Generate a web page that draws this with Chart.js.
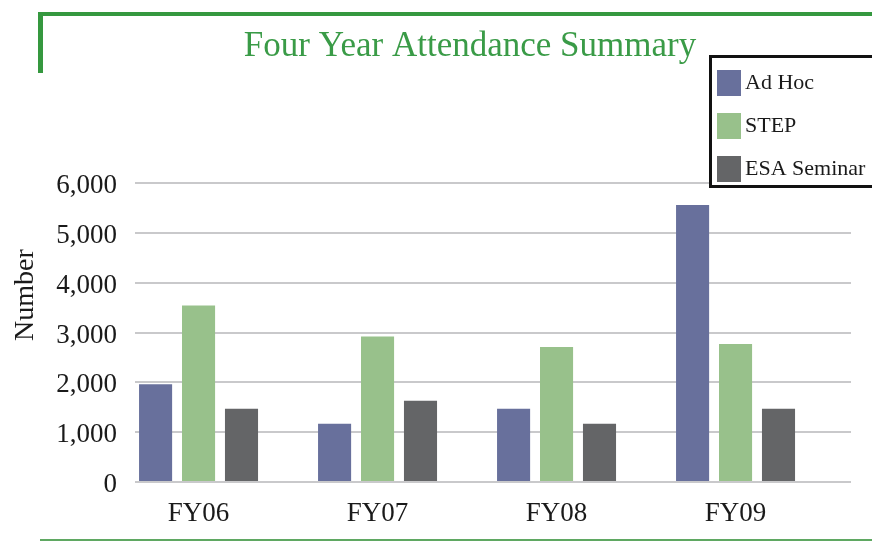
<!DOCTYPE html>
<html>
<head>
<meta charset="utf-8">
<script src="https://cdn.jsdelivr.net/npm/chart.js@4.4.1/dist/chart.umd.min.js"></script>
<style>
  html, body { margin: 0; padding: 0; background: #ffffff; }
  #wrap { width: 872px; height: 542px; position: relative; }
</style>
</head>
<body>
<div id="wrap"><canvas id="c" width="872" height="542"></canvas></div>
<script>
const chartTitle = 'Four Year Attendance Summary';
const categories = ['FY06', 'FY07', 'FY08', 'FY09'];
const seriesNames = ['Ad Hoc', 'STEP', 'ESA Seminar'];
const adHoc = [1960, 1170, 1470, 5560];
const step = [3540, 2920, 2710, 2770];
const esaSeminar = [1470, 1630, 1170, 1470];
const yTicks = [0, 1000, 2000, 3000, 4000, 5000, 6000];
const yAxisTitle = 'Number';

const colors = ['#68709c', '#98c18b', '#646567'];
const FONT = '"Liberation Serif", "Times New Roman", serif';
const X_MIN = -0.355, X_MAX = 3.645;

function toPoints(arr) { return arr.map((v, i) => ({ x: i, y: v })); }

const framePlugin = {
  id: 'frame',
  beforeDraw(chart) {
    const ctx = chart.ctx;
    ctx.save();
    ctx.fillStyle = '#ffffff';
    ctx.fillRect(0, 0, chart.width, chart.height);
    ctx.fillStyle = '#35983f';
    ctx.fillRect(38, 12, chart.width - 38, 4);
    ctx.fillRect(38, 12, 5, 61);
    ctx.fillStyle = '#5fa862';
    ctx.fillRect(40, 539, chart.width - 40, 2);
    ctx.fillStyle = '#3a9b47';
    ctx.font = '35px ' + FONT;
    ctx.textAlign = 'center';
    ctx.textBaseline = 'alphabetic';
    ctx.fillText(chartTitle, 470, 56);
    // y axis title
    ctx.fillStyle = '#1a1a1a';
    ctx.font = '28px ' + FONT;
    ctx.translate(33, 295);
    ctx.rotate(-Math.PI / 2);
    ctx.textAlign = 'center';
    ctx.fillText(yAxisTitle, 0, 0);
    ctx.restore();
  }
};

const legendPlugin = {
  id: 'boxLegend',
  afterDraw(chart) {
    const ctx = chart.ctx;
    ctx.save();
    ctx.fillStyle = '#ffffff';
    ctx.fillRect(710, 56, 200, 131);
    ctx.strokeStyle = '#111111';
    ctx.lineWidth = 3;
    ctx.strokeRect(710.5, 56.5, 200, 130);
    ctx.font = '22px ' + FONT;
    ctx.textBaseline = 'alphabetic';
    ctx.textAlign = 'left';
    chart.data.datasets.forEach((ds, i) => {
      const y = 70 + i * 43;
      ctx.fillStyle = ds.backgroundColor;
      ctx.fillRect(717, y, 24, 26);
      ctx.fillStyle = '#1a1a1a';
      ctx.fillText(ds.label, 745, y + 19);
    });
    ctx.restore();
  }
};

new Chart(document.getElementById('c'), {
  type: 'bar',
  data: {
    datasets: [
      { label: seriesNames[0], data: toPoints(adHoc), backgroundColor: colors[0] },
      { label: seriesNames[1], data: toPoints(step), backgroundColor: colors[1] },
      { label: seriesNames[2], data: toPoints(esaSeminar), backgroundColor: colors[2] }
    ]
  },
  options: {
    responsive: false,
    animation: false,
    devicePixelRatio: 1,
    categoryPercentage: 0.72,
    barPercentage: 0.77,
    layout: { padding: { top: 183, right: 21, left: 0, bottom: 0 } },
    plugins: {
      legend: { display: false },
      title: { display: false },
      tooltip: { enabled: false }
    },
    scales: {
      x: {
        type: 'linear',
        bounds: 'data',
        offset: false,
        min: X_MIN,
        max: X_MAX,
        grid: { display: false, drawTicks: false },
        border: { display: false },
        afterFit(s) { s.height = 60; },
        afterBuildTicks(s) {
          s.ticks = categories.map((c, i) => ({ value: i }));
          s.min = X_MIN; s.max = X_MAX;
        },
        ticks: {
          autoSkip: false,
          maxRotation: 0,
          padding: 16,
          color: '#1a1a1a',
          font: { family: FONT, size: 27 },
          callback: (v) => categories[v] !== undefined ? categories[v] : ''
        }
      },
      y: {
        min: yTicks[0],
        max: yTicks[yTicks.length - 1],
        afterFit(s) { s.width = 135; },
        afterBuildTicks(s) { s.ticks = yTicks.map(v => ({ value: v })); },
        grid: { color: '#c9c9cb', lineWidth: 2, drawTicks: false },
        border: { display: false },
        ticks: {
          padding: 18,
          labelOffset: 3,
          color: '#1a1a1a',
          font: { family: FONT, size: 27 },
          callback: (v) => v.toLocaleString('en-US')
        },
        title: { display: false }
      }
    }
  },
  plugins: [framePlugin, legendPlugin]
});
</script>
</body>
</html>
